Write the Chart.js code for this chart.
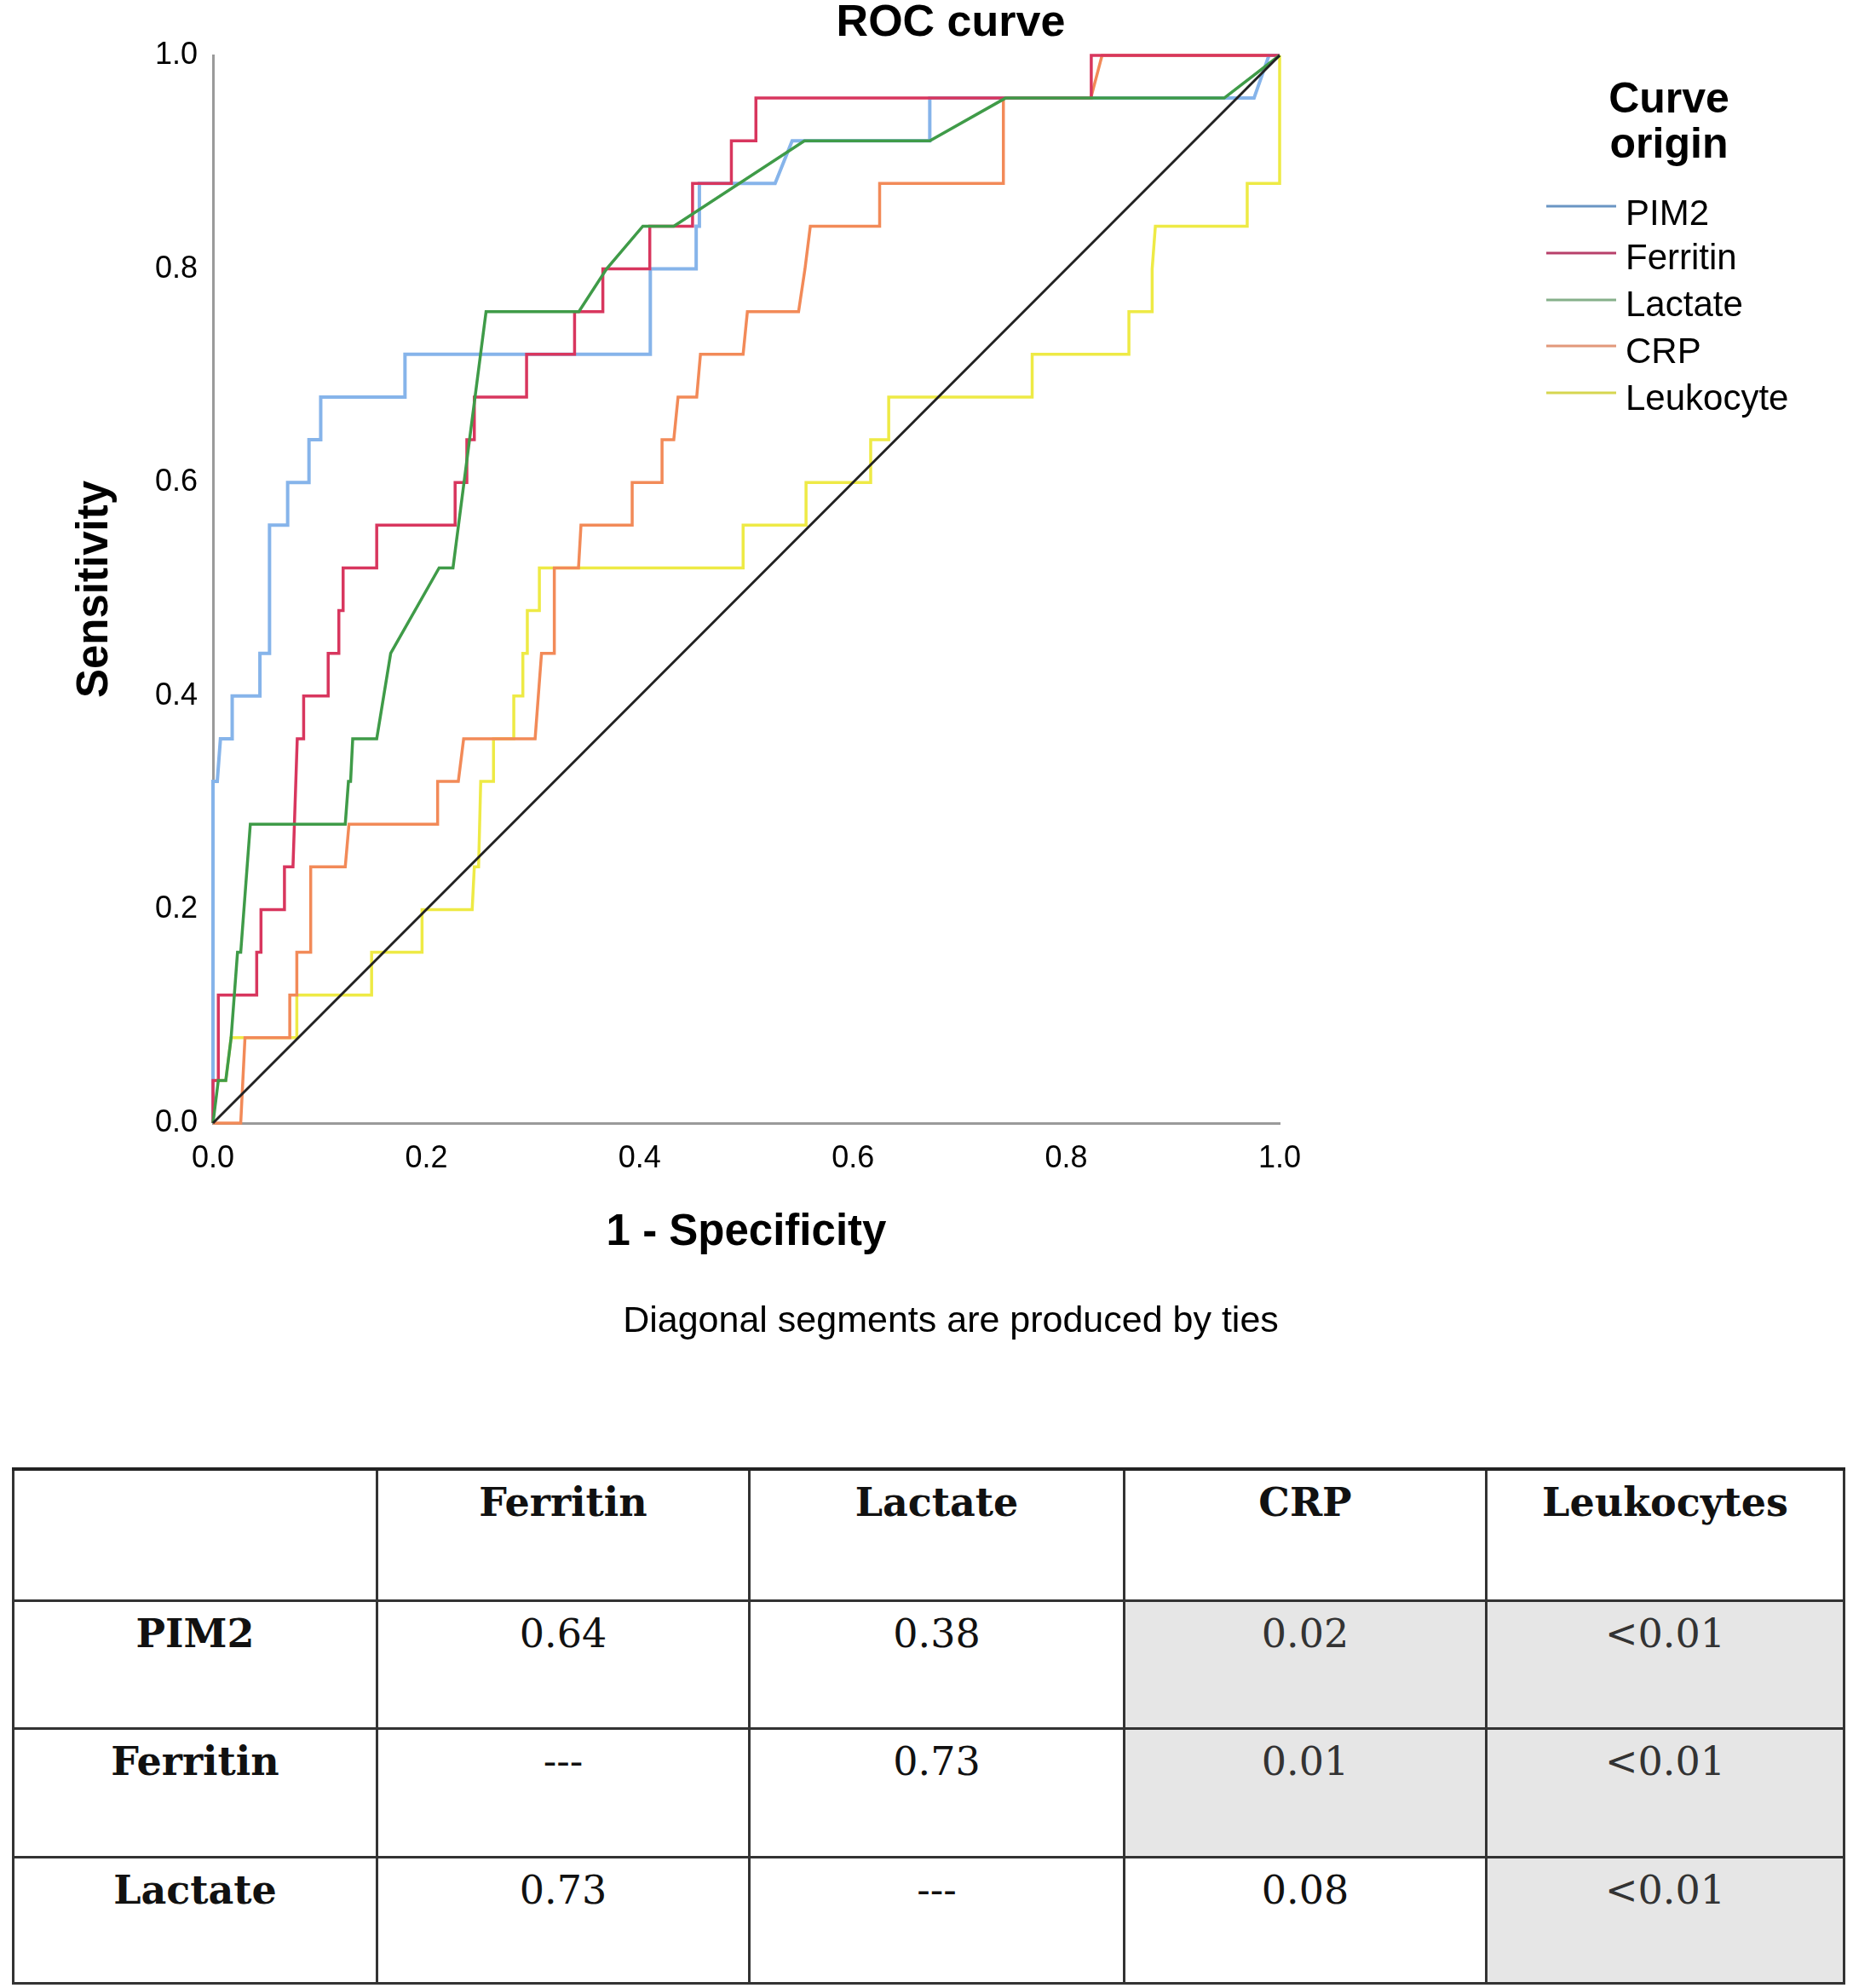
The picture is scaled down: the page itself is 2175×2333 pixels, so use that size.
<!DOCTYPE html>
<html>
<head>
<meta charset="utf-8">
<script src="https://cdn.jsdelivr.net/npm/chart.js@4.4.1/dist/chart.umd.min.js"></script>
<style>
  body { margin: 0; background: #fff; width: 2175px; height: 2333px; position: relative; overflow: hidden; }
  #roc { position: absolute; left: 0; top: 0; }
  table { position: absolute; left: 14px; top: 1722px; border-collapse: collapse; font-family: "DejaVu Serif", serif; table-layout: fixed; }
  td { border: 3px solid #333; text-align: center; vertical-align: top; padding: 10px 0 0 0; font-size: 46px; color: #111; }
  tr:first-child td { border-top: 4px solid #222; }
  td.head { font-weight: bold; }
  td.grey { background: #e6e6e6; color: #333; }
</style>
</head>
<body>
<canvas id="roc" width="2175" height="1700"></canvas>
<table id="pTable"></table>
<script>
// ROC points [1 - specificity, sensitivity]
const pim2 = [[0,0],[0,0.32],[0.004,0.32],[0.007,0.36],[0.018,0.36],[0.018,0.40],[0.044,0.40],[0.044,0.44],[0.053,0.44],[0.053,0.56],[0.07,0.56],[0.07,0.60],[0.09,0.60],[0.09,0.64],[0.101,0.64],[0.101,0.68],[0.18,0.68],[0.18,0.72],[0.41,0.72],[0.41,0.80],[0.453,0.80],[0.453,0.84],[0.456,0.84],[0.456,0.88],[0.527,0.88],[0.543,0.92],[0.672,0.92],[0.672,0.96],[0.976,0.96],[0.99,1],[1,1]];
const ferritin = [[0,0],[0,0.04],[0.005,0.04],[0.005,0.12],[0.041,0.12],[0.041,0.16],[0.045,0.16],[0.045,0.20],[0.067,0.20],[0.067,0.24],[0.075,0.24],[0.079,0.36],[0.085,0.36],[0.085,0.40],[0.108,0.40],[0.108,0.44],[0.118,0.44],[0.118,0.48],[0.122,0.48],[0.122,0.52],[0.1535,0.52],[0.1535,0.56],[0.227,0.56],[0.227,0.60],[0.238,0.60],[0.238,0.64],[0.245,0.64],[0.245,0.68],[0.294,0.68],[0.294,0.72],[0.339,0.72],[0.339,0.76],[0.3655,0.76],[0.3655,0.80],[0.4095,0.80],[0.4095,0.84],[0.4496,0.84],[0.4496,0.88],[0.486,0.88],[0.486,0.92],[0.509,0.92],[0.509,0.96],[0.8234,0.96],[0.8234,1],[1,1]];
const lactate = [[0,0],[0.005,0.04],[0.012,0.04],[0.017,0.08],[0.023,0.16],[0.026,0.16],[0.035,0.28],[0.124,0.28],[0.127,0.32],[0.129,0.32],[0.131,0.36],[0.1535,0.36],[0.1666,0.44],[0.212,0.52],[0.225,0.52],[0.256,0.76],[0.343,0.76],[0.369,0.80],[0.403,0.84],[0.432,0.84],[0.5545,0.92],[0.672,0.92],[0.743,0.96],[0.948,0.96],[1,1]];
const crp = [[0,0],[0.026,0],[0.030,0.08],[0.072,0.08],[0.072,0.12],[0.0786,0.12],[0.0786,0.16],[0.0916,0.16],[0.0916,0.24],[0.124,0.24],[0.1275,0.28],[0.2106,0.28],[0.2106,0.32],[0.230,0.32],[0.235,0.36],[0.302,0.36],[0.308,0.44],[0.320,0.44],[0.320,0.52],[0.3427,0.52],[0.345,0.56],[0.393,0.56],[0.393,0.60],[0.421,0.60],[0.421,0.64],[0.432,0.64],[0.436,0.68],[0.4535,0.68],[0.457,0.72],[0.497,0.72],[0.501,0.76],[0.549,0.76],[0.555,0.80],[0.560,0.84],[0.625,0.84],[0.625,0.88],[0.741,0.88],[0.741,0.96],[0.823,0.96],[0.8335,1],[1,1]];
const leukocyte = [[0,0],[0,0.04],[0.012,0.04],[0.017,0.08],[0.0786,0.08],[0.0786,0.12],[0.1487,0.12],[0.1487,0.16],[0.196,0.16],[0.196,0.20],[0.243,0.20],[0.245,0.24],[0.249,0.24],[0.251,0.32],[0.263,0.32],[0.263,0.36],[0.282,0.36],[0.282,0.40],[0.2905,0.40],[0.2905,0.44],[0.2947,0.44],[0.2947,0.48],[0.306,0.48],[0.306,0.52],[0.497,0.52],[0.497,0.56],[0.556,0.56],[0.556,0.60],[0.6166,0.60],[0.6166,0.64],[0.6335,0.64],[0.6335,0.68],[0.768,0.68],[0.768,0.72],[0.8587,0.72],[0.8587,0.76],[0.8805,0.76],[0.8805,0.80],[0.8835,0.84],[0.9696,0.84],[0.9696,0.88],[1,0.88],[1,1]];
const reference = [[0,0],[1,1]];

const seriesNames = ['PIM2', 'Ferritin', 'Lactate', 'CRP', 'Leukocyte'];
const seriesColors = ['#86b4ea', '#d8365e', '#3f9b48', '#f28a58', '#eeea45'];
const legendColors = ['#6a95c4', '#b8406a', '#86b08a', '#e2987a', '#d6d650'];
const xTicks = [0, 0.2, 0.4, 0.6, 0.8, 1.0];

// p-value table
const tableCols = ['Ferritin', 'Lactate', 'CRP', 'Leukocytes'];
const tableRows = ['PIM2', 'Ferritin', 'Lactate'];
const pValues = [
    ['0.64', '0.38', '0.02', '<0.01'],
    ['---', '0.73', '0.01', '<0.01'],
    ['0.73', '---', '0.08', '<0.01']
];
const shaded = [
    [0, 0, 1, 1],
    [0, 0, 1, 1],
    [0, 0, 0, 1]
];
const colWidths = [424, 434, 437, 422, 417];
const rowHeights = [154, 150, 151, 148];

const toXY = pts => pts.map(p => ({ x: p[0], y: p[1] }));
const curves = [pim2, ferritin, lactate, crp, leukocyte];
const drawOrder = [3, 2, 1, 4, 5];

// title, footnote and legend drawn on top of the canvas
const extras = {
    id: 'extras',
    afterDraw(chart) {
        const ctx = chart.ctx;
        ctx.save();
        ctx.fillStyle = '#000';
        ctx.textAlign = 'center';
        ctx.textBaseline = 'middle';
        ctx.font = 'bold 52px "Liberation Sans", Arial, sans-serif';
        ctx.fillText('ROC curve', 1116, 28);
        ctx.font = '43px "Liberation Sans", Arial, sans-serif';
        ctx.fillText('Diagonal segments are produced by ties', 1116, 1551);

        ctx.textBaseline = 'alphabetic';
        ctx.font = 'bold 50px "Liberation Sans", Arial, sans-serif';
        ctx.fillText('Curve', 1959, 132);
        ctx.fillText('origin', 1959, 185);

        const lineY = [242, 297, 352, 406, 461];
        const textY = [264, 316, 371, 426, 481];
        ctx.textAlign = 'left';
        ctx.font = '42px "Liberation Sans", Arial, sans-serif';
        seriesNames.forEach((name, i) => {
            ctx.strokeStyle = legendColors[i];
            ctx.lineWidth = 3;
            ctx.beginPath();
            ctx.moveTo(1815, lineY[i]);
            ctx.lineTo(1897, lineY[i]);
            ctx.stroke();
            ctx.fillText(name, 1908, textY[i]);
        });
        ctx.restore();
    }
};

const datasets = curves.map((pts, i) => ({
    label: seriesNames[i],
    data: toXY(pts),
    borderColor: seriesColors[i],
    borderWidth: i === 0 ? 4 : 3.5,
    order: drawOrder[i],
    clip: false
}));
datasets.push({
    label: 'Reference',
    data: toXY(reference),
    borderColor: '#222',
    borderWidth: 3,
    order: 0,
    clip: false
});

new Chart(document.getElementById('roc'), {
    type: 'scatter',
    data: { datasets: datasets },
    options: {
        responsive: false,
        animation: false,
        devicePixelRatio: 1,
        showLine: true,
        elements: { point: { radius: 0 }, line: { tension: 0, fill: false } },
        layout: { padding: { left: 0, right: 673, top: 65, bottom: 222 } },
        plugins: { legend: { display: false }, tooltip: { enabled: false } },
        scales: {
            x: {
                type: 'linear', min: 0, max: 1,
                afterFit: s => { s.height = 160; },
                afterBuildTicks: s => { s.ticks = xTicks.map(v => ({ value: v })); },
                grid: { display: false, drawTicks: false },
                border: { display: true, color: '#9a9a9a', width: 3 },
                ticks: { color: '#000', padding: 20, font: { family: '"Liberation Sans", Arial', size: 36 }, callback: v => Number(v).toFixed(1), maxRotation: 0 },
                title: { display: true, text: '1 - Specificity', color: '#000', padding: { top: 0, bottom: 0 }, font: { family: '"Liberation Sans", Arial', size: 51, weight: 'bold' } }
            },
            y: {
                type: 'linear', min: 0, max: 1,
                afterFit: s => { s.width = 250; },
                afterBuildTicks: s => { s.ticks = xTicks.map(v => ({ value: v })); },
                grid: { display: false, drawTicks: false },
                border: { display: true, color: '#9a9a9a', width: 3 },
                ticks: { color: '#000', padding: 18, font: { family: '"Liberation Sans", Arial', size: 36 }, callback: v => Number(v).toFixed(1) },
                title: { display: true, text: 'Sensitivity', color: '#000', padding: { top: 81, bottom: 0 }, font: { family: '"Liberation Sans", Arial', size: 51, weight: 'bold' } }
            }
        }
    },
    plugins: [extras]
});

// build the table
const table = document.getElementById('pTable');
const header = table.insertRow();
header.style.height = rowHeights[0] + 'px';
[''].concat(tableCols).forEach((c, j) => {
    const td = header.insertCell();
    td.textContent = c;
    td.className = 'head';
    td.style.width = colWidths[j] + 'px';
});
tableRows.forEach((r, i) => {
    const tr = table.insertRow();
    tr.style.height = rowHeights[i + 1] + 'px';
    const th = tr.insertCell();
    th.textContent = r;
    th.className = 'head';
    pValues[i].forEach((v, j) => {
        const td = tr.insertCell();
        td.textContent = v;
        if (shaded[i][j]) td.className = 'grey';
    });
});
</script>
</body>
</html>
